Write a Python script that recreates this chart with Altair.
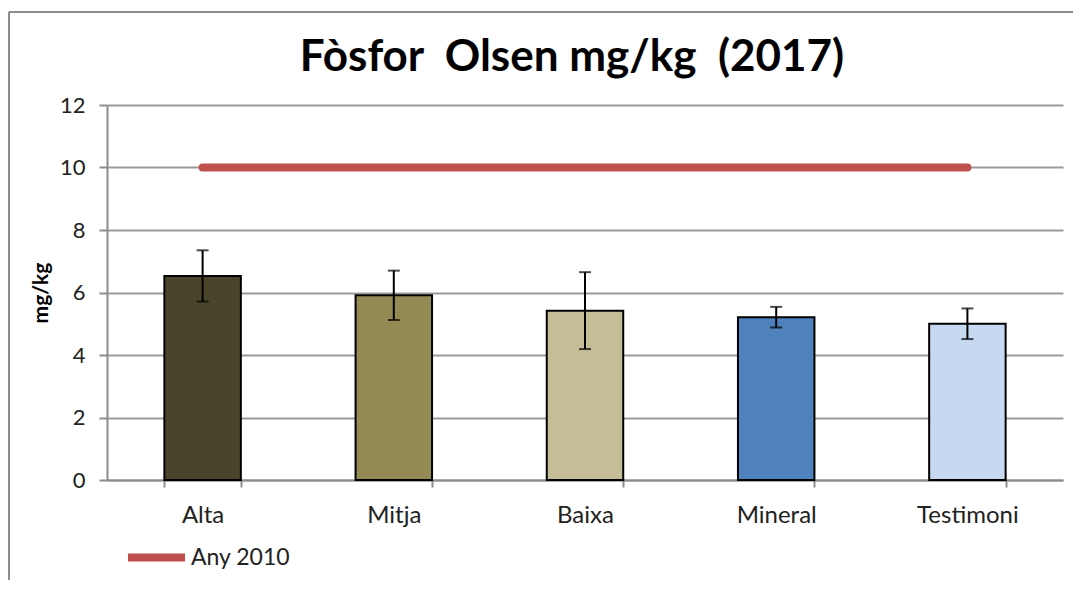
import altair as alt
import pandas as pd

categories = ["Alta", "Mitja", "Baixa", "Mineral", "Testimoni"]
values = [6.53, 5.91, 5.42, 5.21, 5.00]
errors = [0.82, 0.79, 1.23, 0.33, 0.49]
bar_colors = ["#4A452A", "#948A54", "#C4BD97", "#4F81BD", "#C6D9F1"]
ref_values = [10, 10, 10, 10, 10]
ref_name = "Any 2010"
title_text = "Fòsfor\u00a0 Olsen mg/kg\u00a0 (2017)"

df = pd.DataFrame({
    "cat": categories,
    "val": values,
    "lo": [v - e for v, e in zip(values, errors)],
    "hi": [v + e for v, e in zip(values, errors)],
})
ref = pd.DataFrame({"cat": categories, "val": ref_values, "serie": [ref_name] * len(categories)})

FONT = "Lato"
W, H = 956, 375

x = alt.X("cat:N", sort=categories,
          scale=alt.Scale(domain=categories, paddingInner=0.6, paddingOuter=0.3),
          axis=alt.Axis(title=None, labelAngle=0, labelFontSize=24, labelColor="#222",
                        labelFont=FONT, labelPadding=16, tickBand="extent", ticks=True,
                        tickSize=7, tickColor="#8c8c8c", tickWidth=2,
                        domainColor="#8c8c8c", domainWidth=2, grid=False))
y_scale = alt.Scale(domain=[0, 12], nice=False)
y = alt.Y("val:Q", scale=y_scale,
          axis=alt.Axis(title="mg/kg", titleFontSize=21, titleFont=FONT, titleFontWeight="bold",
                        titleColor="#000", titlePadding=8, values=[0, 2, 4, 6, 8, 10, 12],
                        labelFontSize=22, labelFont=FONT, labelColor="#222", labelPadding=14,
                        tickSize=8, tickColor="#8c8c8c", tickWidth=2,
                        domainColor="#8c8c8c", domainWidth=2,
                        gridColor="#9a9a9a", gridWidth=2))

bars = alt.Chart(df).mark_bar(stroke="black", strokeWidth=2).encode(
    x=x, y=y,
    color=alt.Color("cat:N", scale=alt.Scale(domain=categories, range=bar_colors), legend=None),
)

rules = alt.Chart(df).mark_rule(color="black", strokeWidth=2).encode(
    x=alt.X("cat:N", sort=categories), y=alt.Y("lo:Q", scale=y_scale), y2="hi:Q")
caps_hi = alt.Chart(df).mark_tick(color="black", thickness=2, size=12, orient="horizontal").encode(
    x=alt.X("cat:N", sort=categories), y=alt.Y("hi:Q", scale=y_scale))
caps_lo = alt.Chart(df).mark_tick(color="black", thickness=2, size=12, orient="horizontal").encode(
    x=alt.X("cat:N", sort=categories), y=alt.Y("lo:Q", scale=y_scale))

line = alt.Chart(ref).mark_line(strokeWidth=8, strokeCap="round").encode(
    x=alt.X("cat:N", sort=categories),
    y=alt.Y("val:Q", scale=y_scale),
    stroke=alt.Stroke("serie:N", scale=alt.Scale(domain=[ref_name], range=["#C0504D"]),
                      legend=alt.Legend(title=None, orient="none", legendX=17, legendY=420,
                                        symbolType="stroke", symbolStrokeWidth=8, symbolSize=3249,
                                        labelFontSize=23, labelFont=FONT, labelColor="#222",
                                        labelOffset=2)),
)

frame = pd.DataFrame({"k": [0]})
frame_left = alt.Chart(frame).mark_rule(color="#8c8c8c", strokeWidth=2).encode(
    x=alt.value(-98), y=alt.value(-93), y2=alt.value(H + 120))
frame_top = alt.Chart(frame).mark_rule(color="#8c8c8c", strokeWidth=2).encode(
    x=alt.value(-98), x2=alt.value(W + 40), y=alt.value(-93))

chart = alt.layer(frame_left, frame_top, bars, line, rules, caps_hi, caps_lo).properties(
    width=W, height=H,
    title=alt.TitleParams(title_text, fontSize=44, font=FONT,
                          fontWeight="bold", color="#000", anchor="middle", offset=0,
                          dy=69, dx=-13),
    autosize=alt.AutoSizeParams(type="none"),
    padding={"left": 99, "top": 97, "right": 10, "bottom": 100},
).configure_view(stroke=None)

chart.save("out.html", embed_options={"renderer": "svg", "actions": False})
